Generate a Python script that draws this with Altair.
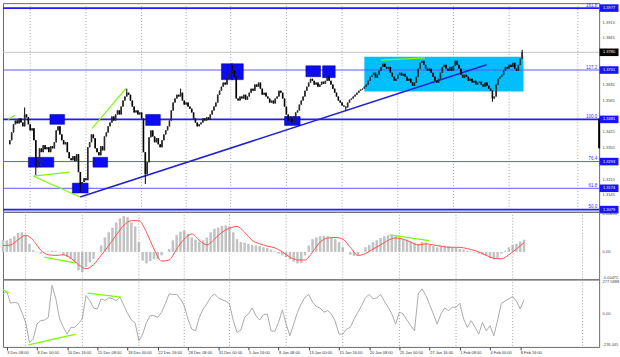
import altair as alt
import pandas as pd

# ---------------- data ----------------
closes = [
    1.3370, 1.3388, 1.3423, 1.3459, 1.3476, 1.3463, 1.3485, 1.3467, 1.3450, 1.3503,
    1.3490, 1.3459, 1.3432, 1.3441, 1.3388, 1.3268, 1.3290, 1.3352, 1.3335, 1.3366,
    1.3348, 1.3357, 1.3335, 1.3361, 1.3352, 1.3379, 1.3432, 1.3450, 1.3414, 1.3388,
    1.3370, 1.3379, 1.3335, 1.3308, 1.3299, 1.3317, 1.3295, 1.3326, 1.3246, 1.3193,
    1.3202, 1.3219, 1.3210, 1.3357, 1.3379, 1.3414, 1.3397, 1.3352, 1.3335, 1.3321,
    1.3361, 1.3343, 1.3405, 1.3423, 1.3450, 1.3467, 1.3494, 1.3476, 1.3503, 1.3521,
    1.3503, 1.3538, 1.3565, 1.3583, 1.3600, 1.3591, 1.3565, 1.3538, 1.3512, 1.3521,
    1.3503, 1.3512, 1.3485, 1.3335, 1.3237, 1.3290, 1.3401, 1.3432, 1.3405, 1.3379,
    1.3397, 1.3370, 1.3357, 1.3388, 1.3414, 1.3432, 1.3450, 1.3476, 1.3521, 1.3556,
    1.3574, 1.3591, 1.3583, 1.3600, 1.3565, 1.3547, 1.3556, 1.3538, 1.3529, 1.3512,
    1.3485, 1.3467, 1.3450, 1.3459, 1.3467, 1.3485, 1.3476, 1.3490, 1.3481, 1.3503,
    1.3521, 1.3538, 1.3556, 1.3591, 1.3609, 1.3627, 1.3645, 1.3636, 1.3662, 1.3680,
    1.3689, 1.3698, 1.3671, 1.3574, 1.3565, 1.3583, 1.3574, 1.3591, 1.3569, 1.3583,
    1.3600, 1.3618, 1.3609, 1.3636, 1.3627, 1.3645, 1.3618, 1.3591, 1.3600, 1.3583,
    1.3574, 1.3556, 1.3565, 1.3552, 1.3574, 1.3583, 1.3609, 1.3600, 1.3574, 1.3538,
    1.3503, 1.3476, 1.3485, 1.3467, 1.3494, 1.3512, 1.3521, 1.3547, 1.3565, 1.3583,
    1.3609, 1.3627, 1.3645, 1.3662, 1.3653, 1.3636, 1.3645, 1.3627, 1.3636, 1.3649,
    1.3640, 1.3653, 1.3671, 1.3653, 1.3636, 1.3618, 1.3600, 1.3583, 1.3565, 1.3556,
    1.3543, 1.3538, 1.3534, 1.3556, 1.3569, 1.3574, 1.3583, 1.3591, 1.3600, 1.3609,
    1.3614, 1.3618, 1.3627, 1.3636, 1.3653, 1.3671, 1.3680, 1.3689, 1.3667, 1.3680,
    1.3698, 1.3715, 1.3729, 1.3715, 1.3707, 1.3715, 1.3689, 1.3671, 1.3653, 1.3662,
    1.3680, 1.3689, 1.3676, 1.3684, 1.3671, 1.3653, 1.3662, 1.3645, 1.3631, 1.3645,
    1.3671, 1.3707, 1.3733, 1.3742, 1.3724, 1.3707, 1.3698, 1.3707, 1.3689, 1.3671,
    1.3653, 1.3645, 1.3662, 1.3689, 1.3715, 1.3724, 1.3707, 1.3698, 1.3715, 1.3698,
    1.3720, 1.3742, 1.3724, 1.3707, 1.3680, 1.3667, 1.3680, 1.3671, 1.3653, 1.3662,
    1.3645, 1.3653, 1.3636, 1.3645, 1.3649, 1.3636, 1.3627, 1.3645, 1.3631, 1.3618,
    1.3609, 1.3574, 1.3583, 1.3636, 1.3662, 1.3671, 1.3680, 1.3698, 1.3715, 1.3707,
    1.3724, 1.3715, 1.3733, 1.3707, 1.3698, 1.3724, 1.3751, 1.3780,
]
spike_highs = {9: 1.3534, 64: 1.3618, 93: 1.3618, 121: 1.3724, 277: 1.3791}
spike_lows = {15: 1.3233, 39: 1.3157, 74: 1.3193, 182: 1.3521, 261: 1.3560}

date_labels = ["3 Dec 08:00", "8 Dec 00:00", "10 Dec 16:00", "15 Dec 08:00",
               "18 Dec 00:00", "22 Dec 16:00", "28 Dec 08:00", "31 Dec 00:00",
               "5 Jan 16:00", "8 Jan 08:00", "13 Jan 00:00", "15 Jan 16:00",
               "20 Jan 08:00", "25 Jan 00:00", "27 Jan 16:00", "1 Feb 08:00",
               "4 Feb 00:00", "8 Feb 16:00"]
date_bars = [2, 18, 34, 50, 66, 82, 98, 114, 130, 146, 162, 178, 194, 210, 226, 242, 258, 274]
week_bars = [12, 42, 72, 96, 120, 150, 180, 210, 240, 270, 307]

fib_levels = [1.3977, 1.3701, 1.3481, 1.3293, 1.3174, 1.3079]
fib_names = ["161.8", "127.2", "100.0", "76.4", "61.8", "50.0"]
fib_bold = [True, False, True, False, False, True]
price_ticks = [1.3913, 1.3845, 1.3635, 1.3565, 1.3425, 1.3355, 1.3215, 1.3145]
current_price = 1.3780
spread_bar = [1.3352, 1.3485]

zone_i = [192, 277.7]
zone_p = [1.3605, 1.3760]

box_i0 = [11, 17.4, 22.6, 34.7, 45.8, 74.2, 115, 120.5, 149, 160.5, 169.5]
box_i1 = [17.4, 24.7, 30.5, 43.2, 53.7, 82.1, 121, 126.8, 157.4, 168.4, 176.3]
box_p0 = [1.3268, 1.3268, 1.3459, 1.3153, 1.3268, 1.3454, 1.3658, 1.3658, 1.3454, 1.3671, 1.3667]
box_p1 = [1.3312, 1.3312, 1.3503, 1.3197, 1.3312, 1.3503, 1.3729, 1.3729, 1.3494, 1.3720, 1.3720]

trend_i = [38.9, 257.9]
trend_p = [1.3135, 1.3724]

green_seg = [0, 0, 1, 1, 2, 2, 3, 3, 4, 4]
green_i = [0, 3.7, 13.7, 33.2, 13.7, 38.9, 45.3, 63.5, 200.9, 224.6]
green_p = [1.3481, 1.3499, 1.3228, 1.3246, 1.3228, 1.3135, 1.3441, 1.3618, 1.3745, 1.3755]

macd_hist = [
    0.0020, 0.0020, 0.0023, 0.0027, 0.0033, 0.0034, 0.0028, 0.0014, 0.0003, -0.0001,
    -0.0003, 0.0000, 0.0001, 0.0002, 0.0001, -0.0001, -0.0006, -0.0009, -0.0012, -0.0020,
    -0.0032, -0.0035, -0.0026, -0.0018, -0.0012, 0.0000, 0.0011, 0.0025, 0.0034, 0.0042,
    0.0051, 0.0058, 0.0062, 0.0060, 0.0051, 0.0044, 0.0017, -0.0015, -0.0020, -0.0016,
    -0.0013, -0.0012, -0.0006, 0.0000, 0.0005, 0.0020, 0.0029, 0.0035, 0.0037, 0.0031,
    0.0025, 0.0021, 0.0018, 0.0020, 0.0025, 0.0034, 0.0040, 0.0042, 0.0045, 0.0046,
    0.0044, 0.0034, 0.0022, 0.0017, 0.0016, 0.0014, 0.0012, 0.0011, 0.0010, 0.0008,
    0.0007, 0.0004, 0.0001, -0.0003, -0.0006, -0.0009, -0.0013, -0.0017, -0.0020, -0.0019,
    -0.0006, 0.0011, 0.0022, 0.0025, 0.0027, 0.0028, 0.0027, 0.0025, 0.0022, 0.0017,
    0.0008, 0.0000, -0.0005, -0.0007, -0.0005, 0.0000, 0.0008, 0.0012, 0.0017, 0.0020,
    0.0024, 0.0027, 0.0029, 0.0029, 0.0027, 0.0025, 0.0022, 0.0020, 0.0018, 0.0016,
    0.0014, 0.0017, 0.0016, 0.0012, 0.0010, 0.0008, 0.0010, 0.0011, 0.0010, 0.0008,
    0.0007, 0.0005, 0.0004, 0.0002, 0.0001, -0.0001, -0.0003, -0.0005, -0.0007, -0.0011,
    -0.0013, -0.0012, -0.0003, 0.0002, 0.0008, 0.0012, 0.0014, 0.0018, 0.0021,
]
macd_signal = [
    0.0011, 0.0012, 0.0021, 0.0029, 0.0020, 0.0003, -0.0005, -0.0006, -0.0005, -0.0011,
    -0.0022, -0.0029, -0.0022, -0.0006, 0.0011, 0.0029, 0.0046, 0.0054, 0.0054, 0.0034,
    0.0005, -0.0016, -0.0014, 0.0005, 0.0022, 0.0031, 0.0020, 0.0012, 0.0022, 0.0034,
    0.0041, 0.0044, 0.0034, 0.0020, 0.0014, 0.0010, 0.0007, 0.0000, -0.0009, -0.0014,
    -0.0014, 0.0000, 0.0017, 0.0024, 0.0025, 0.0022, 0.0008, -0.0006, -0.0003, 0.0005,
    0.0012, 0.0020, 0.0024, 0.0022, 0.0017, 0.0012, 0.0014, 0.0012, 0.0010, 0.0008,
    0.0008, 0.0007, 0.0004, 0.0000, -0.0006, -0.0011, -0.0012, -0.0005, 0.0005, 0.0016,
]
macd_green_seg = [0, 0, 1, 1]
macd_green_i = [21.8, 37.4, 204.9, 225.7]
macd_green_v = [-0.00089, -0.00186, 0.00294, 0.00196]
macd_axis_vals = [0.00694, 0.0, -0.00475]
macd_axis_labels = ["0.00694", "0.00", "-0.00475"]

cci = [
    159, 181, 82, 90, 82, 8, -75, -240, -213, -89,
    -61, -56, -34, 228, 118, -47, -116, -171, -116, -116,
    -83, -47, 145, 104, 43, 35, 118, 104, 126, 118,
    104, 132, 63, 0, -56, -78, -226, -171, -75, -20,
    -20, -34, 8, 77, 159, 154, 154, 118, 63, -47,
    -130, -144, -34, 35, 77, 132, 159, 126, 110, 99,
    77, -61, -157, -138, -34, -6, 43, -20, -56, -12,
    -6, -144, -149, -75, 27, -89, -185, -89, 8, 77,
    132, 154, 90, 55, 43, 8, 21, -6, -67, -171,
    -171, -130, -116, -47, 8, 63, 126, 154, 118, 126,
    154, 99, 49, -6, -89, 8, -6, -56, -102, -144,
    159, 200, 145, 71, -6, -89, -6, 43, 21, 49,
    49, 82, -47, -116, -61, -111, -171, -75, -144, -102,
    -185, -61, 82, 99, 118, 137, 99, 35, 110,
]
cci_green_seg = [0, 0, 1, 1, 2, 2]
cci_green_i = [0, 3.1, 13.5, 38.5, 44.7, 62.4]
cci_green_v = [192, 165, -259, -171, 165, 132]
cci_axis_vals = [277.5888, 0.0, -276.045]
cci_axis_labels = ["277.5888", "0.00", "-276.045"]

# ---------------- tables ----------------
rows = []
for i, c in enumerate(closes):
    o = closes[i - 1] if i > 0 else c
    hi = max(o, c, spike_highs.get(i, 0.0))
    lo = min(o, c, spike_lows.get(i, 10.0))
    rows.append({"i": i, "o": o, "c": c, "hi": hi, "lo": lo, "up": "up" if c >= o else "down"})
candles = pd.DataFrame(rows)

weeks = pd.DataFrame({"i": week_bars})
fib = pd.DataFrame({"p": fib_levels, "name": fib_names, "bold": fib_bold,
                    "t": [f"{v:.4f}" for v in fib_levels], "kind": "fib"})
cur = pd.DataFrame({"p": [current_price], "t": [f"{current_price:.4f}"], "kind": ["cur"]})
axis_boxes = pd.concat([fib[["p", "t", "kind"]], cur], ignore_index=True)
zone = pd.DataFrame({"i0": [zone_i[0]], "i1": [zone_i[1]], "p0": [zone_p[0]], "p1": [zone_p[1]]})
boxes = pd.DataFrame({"i0": box_i0, "i1": box_i1, "p0": box_p0, "p1": box_p1})
trend = pd.DataFrame({"i": trend_i, "p": trend_p})
green = pd.DataFrame({"seg": green_seg, "i": green_i, "p": green_p})
spread = pd.DataFrame({"p0": [spread_bar[0]], "p1": [spread_bar[1]]})

macd_df = pd.DataFrame({"i": list(range(0, 2 * len(macd_hist), 2)), "v": macd_hist})
sig_df = pd.DataFrame({"i": list(range(0, 4 * len(macd_signal), 4)), "v": macd_signal})
macd_green = pd.DataFrame({"seg": macd_green_seg, "i": macd_green_i, "v": macd_green_v})
cci_df = pd.DataFrame({"i": list(range(0, 2 * len(cci), 2)), "v": cci})
cci_green = pd.DataFrame({"seg": cci_green_seg, "i": cci_green_i, "v": cci_green_v})

# ---------------- scales & axes ----------------
W = 600
FONT = "Liberation Sans"
GREEN = "#7cfc00"
xs = alt.Scale(domain=[0, 315.8], nice=False, zero=False)
ps = alt.Scale(domain=[1.30693, 1.39991], nice=False, zero=False)
ms = alt.Scale(domain=[-0.00475, 0.00694], nice=False, zero=False)
cs = alt.Scale(domain=[-276.045, 277.5888], nice=False, zero=False)


def js_list(items):
    return "[" + ",".join(repr(v) for v in items) + "]"


price_axis = alt.Axis(orient="right", values=price_ticks, format=".4f", labelFontSize=4,
                      labelColor="#444444", labelFont=FONT, ticks=False, domain=False,
                      grid=False, labelPadding=3, title=None)
macd_axis = alt.Axis(orient="right", values=macd_axis_vals,
                     labelExpr=js_list(macd_axis_labels) + "[indexof(" + js_list(macd_axis_vals) + ", datum.value)]",
                     labelFontSize=4, labelColor="#444444", labelFont=FONT, ticks=False, domain=False,
                     grid=False, labelPadding=3, labelFlush=True, title=None)
cci_axis = alt.Axis(orient="right", values=cci_axis_vals,
                    labelExpr=js_list(cci_axis_labels) + "[indexof(" + js_list(cci_axis_vals) + ", datum.value)]",
                    labelFontSize=4, labelColor="#444444", labelFont=FONT, ticks=False, domain=False,
                    grid=False, labelPadding=3, labelFlush=True, title=None)
date_axis = alt.Axis(values=date_bars,
                     labelExpr=js_list(date_labels) + "[indexof(" + js_list(date_bars) + ", datum.value)]",
                     labelAlign="left", labelFontSize=4, labelColor="#333333", labelFont=FONT,
                     tickSize=3, tickColor="#404040", domain=False, grid=False, labelPadding=1,
                     labelOverlap=False, labelFlush=False, labelBound=False, title=None)


def PX(field="i"):
    return alt.X(f"{field}:Q", scale=xs, axis=None)


def PY(field):
    return alt.Y(f"{field}:Q", scale=ps, axis=price_axis)


def MY(field="v"):
    return alt.Y(f"{field}:Q", scale=ms, axis=macd_axis)


def CX(field="i"):
    return alt.X(f"{field}:Q", scale=xs, axis=date_axis)


def CY(field="v"):
    return alt.Y(f"{field}:Q", scale=cs, axis=cci_axis)


def week_rules(xenc):
    return alt.Chart(weeks).mark_rule(color="#8f8f8f", strokeDash=[1, 2], strokeWidth=0.8).encode(x=xenc)


# ---------------- price panel ----------------
zone_l = alt.Chart(zone).mark_rect(color="#00bfff").encode(
    x=PX("i0"), x2="i1", y=PY("p0"), y2="p1")
cur_l = alt.Chart(cur).mark_rule(color="#c4c4c4", strokeWidth=1).encode(y=PY("p"))
fib_thick = alt.Chart(fib[fib["bold"]]).mark_rule(color="#1e1eff", strokeWidth=1.8).encode(y=PY("p"))
fib_thin = alt.Chart(fib[~fib["bold"]]).mark_rule(color="#5a5aff", strokeWidth=1).encode(y=PY("p"))
trend_l = alt.Chart(trend).mark_line(color="#2020d8", strokeWidth=1.6).encode(x=PX(), y=PY("p"))
green_l = alt.Chart(green).mark_line(color=GREEN, strokeWidth=1.2).encode(
    x=PX(), y=PY("p"), detail="seg:N")
boxes_l = alt.Chart(boxes).mark_rect(color="#0c0cf0", stroke="#00008a", strokeWidth=0.5).encode(
    x=PX("i0"), x2="i1", y=PY("p0"), y2="p1")
wick_l = alt.Chart(candles).mark_rule(color="#000000", strokeWidth=1).encode(
    x=PX(), y=PY("lo"), y2="hi")
body_l = alt.Chart(candles).mark_bar(width=1.6, strokeWidth=0).encode(
    x=PX(), y=PY("o"), y2="c",
    fill=alt.Fill("up:N", scale=alt.Scale(domain=["up", "down"], range=["#2a2a2a", "#000000"]),
                  legend=None))
spread_l = alt.Chart(spread).mark_rule(color="#000000", strokeWidth=2).encode(
    x=alt.value(600), y=PY("p0"), y2="p1")
fibtxt_l = alt.Chart(fib).mark_text(font=FONT, fontSize=4.5, color="#3434ff", align="right",
                                    baseline="bottom", dy=-0.5).encode(
    x=alt.value(598), y=PY("p"), text="name:N")
box_shape = "M-1,-0.4H1V0.4H-1Z"
axbox_l = alt.Chart(axis_boxes).mark_point(shape=box_shape, filled=True, size=361, opacity=1,
                                           strokeWidth=0).encode(
    x=alt.value(610), y=PY("p"),
    color=alt.Color("kind:N", scale=alt.Scale(domain=["fib", "cur"], range=["#1414ff", "#000000"]),
                    legend=None))
axtxt_l = alt.Chart(axis_boxes).mark_text(font=FONT, fontSize=4, color="white", align="center",
                                          baseline="middle").encode(
    x=alt.value(610), y=PY("p"), text="t:N")

price = alt.layer(zone_l, week_rules(PX()), cur_l, fib_thin, fib_thick, trend_l, green_l, boxes_l,
                  wick_l, body_l, spread_l, fibtxt_l, axbox_l, axtxt_l).properties(width=W, height=210)

# ---------------- MACD panel ----------------
hist_l = alt.Chart(macd_df).mark_rule(color="#c2c2c2", strokeWidth=2.5).encode(
    x=PX(), y=MY(), y2=alt.datum(0))
sig_l = alt.Chart(sig_df).mark_line(color="#ff5050", strokeWidth=1, interpolate="monotone").encode(
    x=PX(), y=MY())
mg_l = alt.Chart(macd_green).mark_line(color=GREEN, strokeWidth=1.2).encode(
    x=PX(), y=MY(), detail="seg:N")
macd = alt.layer(hist_l, week_rules(PX()), sig_l, mg_l).properties(width=W, height=68)

# ---------------- CCI panel ----------------
cci_l = alt.Chart(cci_df).mark_line(color="#a9a9a9", strokeWidth=1).encode(x=CX(), y=CY())
cg_l = alt.Chart(cci_green).mark_line(color=GREEN, strokeWidth=1.2).encode(
    x=CX(), y=CY(), detail="seg:N")
cci_chart = alt.layer(cci_l, week_rules(CX()), cg_l).properties(width=W, height=68)

chart = alt.vconcat(price, macd, cci_chart, spacing=0, bounds="flush").properties(
    padding=0, background="white"
).configure_view(stroke="#6a6a6a", strokeWidth=1)

chart.save("out.html", embed_options={"renderer": "svg", "actions": False})
